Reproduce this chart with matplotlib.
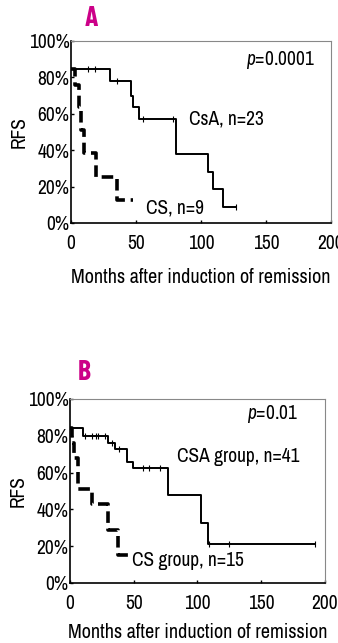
import matplotlib
matplotlib.use("Agg")
import matplotlib.pyplot as plt

plt.rcParams['font.family'] = ['Archivo Narrow', 'DejaVu Sans']
plt.rcParams['mathtext.fontset'] = 'custom'
plt.rcParams['mathtext.rm'] = 'Archivo Narrow'
plt.rcParams['mathtext.it'] = 'Archivo Narrow:italic'

# Panel A - Kaplan-Meier steps (months, % RFS)
a_csa_t = [0, 30, 46, 48, 52, 81, 105, 109, 117, 127]
a_csa_s = [84.6, 78, 70, 64, 57, 38, 28, 18.5, 9, 9]
a_csa_cens_t = [13, 18.5, 35, 55, 78.5, 127]
a_csa_cens_s = [84.6, 84.6, 78, 57, 57, 9]

a_cs_t = [0, 3, 6, 8, 10, 19, 35, 48]
a_cs_s = [84.6, 76, 64, 51, 38.5, 25, 12.6, 12.6]

# Panel B
b_csa_t = [0, 10, 30, 35.5, 44.5, 49.5, 77, 103, 108, 192]
b_csa_s = [84, 80, 76, 73, 66, 62.5, 48, 32.6, 21.3, 21.3]
b_csa_cens_t = [12, 17, 20, 22, 27.5, 33, 38.5, 57, 62, 70.5, 109, 125, 192]
b_csa_cens_s = [80, 80, 80, 80, 80, 76, 73, 62.5, 62.5, 62.5, 21.3, 21.3, 21.3]

b_cs_t = [0, 1.3, 3, 6, 17, 30, 38, 45.6]
b_cs_s = [84, 76, 68, 51, 43, 29, 15, 15]

yticks = [0, 20, 40, 60, 80, 100]
ytick_labels = ['0%', '20%', '40%', '60%', '80%', '100%']
xticks = [0, 50, 100, 150, 200]

MAGENTA = '#cc0088'


def panel(ax, csa_t, csa_s, cens_t, cens_s, cs_t, cs_s, ptxt, ppos,
          lab1, pos1, lab2, pos2, xpad):
    ax.step(csa_t, csa_s, where='post', color='black', lw=1.4)
    ax.plot(cens_t, cens_s, ls='none', marker='|', ms=4, mew=0.8, color='black')
    ax.step(cs_t, cs_s, where='post', color='black', lw=2.6, ls=(0, (3.2, 1.6)))
    ax.set_xlim(0, 200)
    ax.set_ylim(0, 100)
    ax.set_xticks(xticks)
    ax.set_yticks(yticks)
    ax.set_yticklabels(ytick_labels)
    ax.tick_params(axis='both', labelsize=14, direction='in', length=2, width=1)
    ax.tick_params(axis='y', pad=1)
    ax.tick_params(axis='x', pad=8)
    ax.set_ylabel('RFS', fontsize=14, labelpad=0)
    ax.set_xlabel('Months after induction of remission', fontsize=14.5, labelpad=xpad)
    for s in ['top', 'right']:
        ax.spines[s].set_color('#888888')
        ax.spines[s].set_linewidth(0.8)
    for s in ['left', 'bottom']:
        ax.spines[s].set_linewidth(1.2)
    ax.text(ppos[0], ppos[1], ptxt, fontsize=14, va='center', ha='left')
    ax.text(pos1[0], pos1[1], lab1, fontsize=14, va='center', ha='left')
    ax.text(pos2[0], pos2[1], lab2, fontsize=14, va='center', ha='left')


fig = plt.figure(figsize=(3.38, 6.43), dpi=100)

ax1 = fig.add_axes([71 / 338, 1 - 223 / 643, 260 / 338, 182 / 643])
panel(ax1, a_csa_t, a_csa_s, a_csa_cens_t, a_csa_cens_s, a_cs_t, a_cs_s,
      r'$\it{p}$=0.0001', (135, 89.5),
      'CsA, n=23', (91, 57), 'CS, n=9', (58, 8), 11)

ax2 = fig.add_axes([70 / 338, 1 - 583 / 643, 255 / 338, 184 / 643])
panel(ax2, b_csa_t, b_csa_s, b_csa_cens_t, b_csa_cens_s, b_cs_t, b_cs_s,
      r'$\it{p}$=0.01', (139, 92),
      'CSA group, n=41', (84, 68.5), 'CS group, n=15', (49, 12), 7)

fig.text(91 / 338, 1 - 18 / 643, 'A', color=MAGENTA, fontsize=20,
         fontweight='bold', family='Barlow Condensed', ha='center', va='center')
fig.text(84 / 338, 1 - 373 / 643, 'B', color=MAGENTA, fontsize=20,
         fontweight='bold', family='Barlow Condensed', ha='center', va='center')

fig.savefig('out.png', dpi=100)
